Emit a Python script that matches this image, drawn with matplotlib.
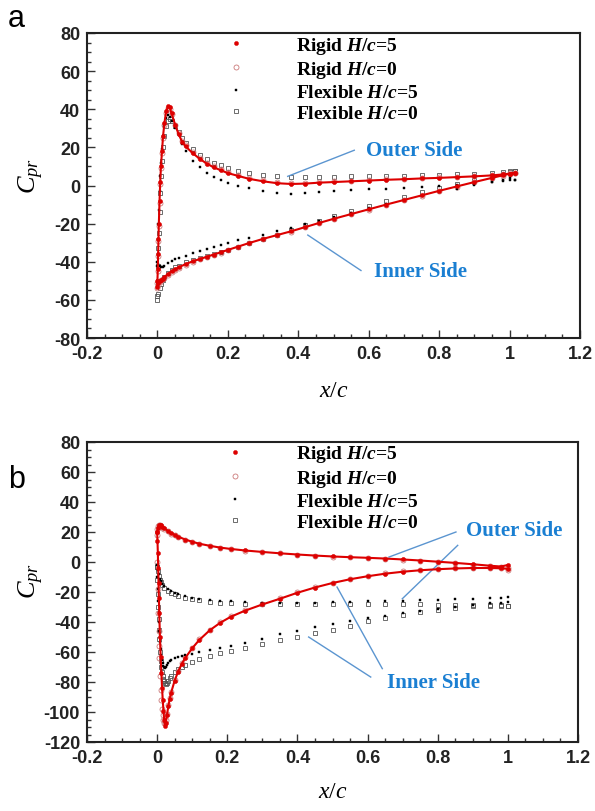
import numpy as np
import matplotlib
matplotlib.use("Agg")
import matplotlib.pyplot as plt
from matplotlib.ticker import MultipleLocator, FormatStrFormatter

plt.rcParams["axes.unicode_minus"] = False
plt.rcParams["mathtext.fontset"] = "custom"
plt.rcParams["mathtext.rm"] = "Liberation Serif"
plt.rcParams["mathtext.it"] = "Liberation Serif:italic"
plt.rcParams["mathtext.bf"] = "Liberation Serif:bold"
plt.rcParams["mathtext.bfit"] = "Liberation Serif:italic:bold"

# ---------------- panel a data ----------------
x_out_a = [0.0, 0.001, 0.002, 0.003, 0.004, 0.006, 0.008, 0.01, 0.013, 0.016, 0.02, 0.025, 0.03,
           0.035, 0.04, 0.05, 0.06, 0.07, 0.08, 0.1, 0.12, 0.14, 0.16, 0.18, 0.2, 0.23, 0.26, 0.3,
           0.34, 0.38, 0.42, 0.46, 0.5, 0.55, 0.6, 0.65, 0.7, 0.75, 0.8, 0.85, 0.9, 0.95, 0.98, 1.0, 1.015]
rigid5_out_a = [-50, -44, -36, -28, -20, -8, 2, 10, 18, 26, 33, 39, 41.5,
                41, 38, 32, 27, 23, 20.5, 17, 14, 11.5, 9.5, 8, 6.5, 5, 3.5, 2.2,
                1.2, 0.8, 1.0, 1.5, 1.8, 2.2, 2.6, 3.0, 3.3, 3.7, 4.0, 4.4, 4.8, 5.3, 5.8, 6.2, 6.5]
rigid0_out_a = [-51, -45, -37, -29, -21, -9, 1, 9, 17, 25, 32, 38, 40.5,
                40, 37.5, 32, 27.5, 23.5, 21, 17.5, 14.5, 12, 10, 8.5, 7, 5.5, 4, 2.7,
                1.7, 1.3, 1.4, 1.8, 2.1, 2.5, 2.9, 3.2, 3.5, 3.9, 4.2, 4.6, 5.0, 5.5, 6.0, 6.3, 6.5]
flex5_out_a = [-42, -36, -28, -20, -13, -3, 5, 12, 19, 26, 31, 35.5, 37,
               36, 34, 30, 26.5, 22, 18, 13, 9.5, 6.5, 4.5, 2.8, 1.5, 0, -1.5, -3,
               -4, -4.5, -4, -3.2, -2.8, -2.4, -2, -1.6, -1.2, -0.8, -0.3, 0.3, 1.0, 2.0, 3.0, 4.0, 3.0]
flex0_out_a = [-58, -50, -42, -33, -25, -14, -4, 5, 13, 20, 26, 31, 34,
               35, 34, 31, 28, 25, 22.5, 19, 16, 14, 12, 10.5, 9.2, 7.8, 6.5, 5.5,
               4.8, 4.5, 4.5, 4.6, 4.7, 4.8, 5.0, 5.1, 5.2, 5.4, 5.6, 5.8, 6.0, 6.5, 7.0, 7.5, 7.5]

x_in_a = [0.0, 0.003, 0.006, 0.01, 0.015, 0.02, 0.03, 0.04, 0.05, 0.06, 0.08, 0.1, 0.12, 0.14,
          0.16, 0.18, 0.2, 0.23, 0.26, 0.3, 0.34, 0.38, 0.42, 0.46, 0.5, 0.55, 0.6, 0.65, 0.7,
          0.75, 0.8, 0.85, 0.9, 0.95, 0.98, 1.0, 1.015]
rigid5_in_a = [-53, -51, -50, -49.5, -48.8, -48, -46.5, -45, -44, -43, -41.2, -39.8, -38.6, -37.4,
               -36.2, -35, -33.8, -32, -30.2, -28, -26, -24, -21.8, -19.6, -17.5, -15, -12.5, -10, -7.6,
               -5.2, -2.8, -0.5, 1.8, 4.0, 5.3, 6.2, 6.5]
rigid0_in_a = [-54, -52, -50.5, -49.8, -49, -48.3, -46.8, -45.4, -44.3, -43.3, -41.5, -40, -38.8, -37.6,
               -36.4, -35.2, -34, -32.2, -30.4, -28.2, -26.2, -24.2, -22, -19.8, -17.7, -15.2, -12.7, -10.2, -7.8,
               -5.4, -3.0, -0.7, 1.6, 3.8, 5.1, 6.0, 6.4]
flex5_in_a = [-40, -41, -42, -42.5, -42.5, -42, -40.8, -39.8, -38.8, -38, -36.8, -35.6, -34.6, -33.5,
              -32.4, -31.3, -30.3, -28.8, -27.4, -25.8, -24, -22.2, -20.3, -18.4, -16.5, -14.2, -12, -9.8, -7.7,
              -5.6, -3.5, -1.6, 0.2, 1.8, 2.6, 3.0, 3.0]
flex0_in_a = [-60, -57, -54, -51.5, -49.5, -48, -46, -44.5, -43, -42, -40.3, -39, -37.8, -36.8,
              -35.8, -34.8, -33.6, -32, -30.3, -28.2, -25.8, -23.3, -20.8, -18.4, -16, -13.3, -10.8, -8.3, -5.9,
              -3.6, -1.4, 0.8, 2.8, 4.8, 6.2, 7.2, 7.5]

# ---------------- panel b data ----------------
x_out_b = [0.0, 0.002, 0.004, 0.007, 0.01, 0.015, 0.02, 0.03, 0.04, 0.05, 0.06, 0.08, 0.1, 0.12,
           0.15, 0.18, 0.21, 0.25, 0.3, 0.35, 0.4, 0.45, 0.5, 0.55, 0.6, 0.65, 0.7, 0.75, 0.8,
           0.85, 0.9, 0.95, 0.98, 1.0]
rigid5_out_b = [20, 23, 24.5, 24.8, 24.5, 23.5, 22.5, 20.8, 19.3, 18, 16.9, 15, 13.5, 12.2,
                10.8, 9.6, 8.7, 7.7, 6.7, 5.8, 5.0, 4.3, 3.7, 3.2, 2.8, 2.3, 1.7, 1.0, 0.2,
                -0.6, -1.5, -2.5, -3.0, -2.0]
rigid0_out_b = [22, 24, 24.8, 24.5, 24, 23, 22, 20.4, 19, 17.8, 16.7, 14.8, 13.3, 12,
                10.6, 9.5, 8.6, 7.6, 6.6, 5.7, 4.9, 4.2, 3.6, 3.1, 2.6, 2.1, 1.5, 0.8, 0.0,
                -0.9, -1.8, -2.8, -3.5, -5.0]
flex5_out_b = [-2, -5, -8, -11, -12.5, -14.5, -16, -18, -19.5, -20.6, -21.5, -22.8, -23.8, -24.5,
               -25.3, -25.9, -26.3, -26.7, -27, -27.1, -27.1, -27, -26.8, -26.5, -26.3, -26, -25.7, -25.4, -25.1,
               -24.8, -24.5, -24.1, -23.7, -23.3]
flex0_out_b = [-3, -6, -9, -12, -13.5, -15.5, -17, -19, -20.5, -21.6, -22.5, -23.8, -24.8, -25.6,
               -26.4, -27, -27.4, -27.7, -28, -28.2, -28.3, -28.3, -28.3, -28.3, -28.3, -28.3, -28.3, -28.3, -28.4,
               -28.5, -28.6, -28.7, -28.8, -29]

x_in_b = [0.0, 0.001, 0.002, 0.003, 0.004, 0.005, 0.006, 0.008, 0.01, 0.012, 0.014, 0.016, 0.018,
          0.02, 0.022, 0.025, 0.028, 0.032, 0.036, 0.04, 0.05, 0.06, 0.07, 0.08, 0.1, 0.12, 0.15,
          0.18, 0.21, 0.25, 0.3, 0.35, 0.4, 0.45, 0.5, 0.55, 0.6, 0.65, 0.7, 0.75, 0.8, 0.85,
          0.9, 0.95, 0.98, 1.0]
rigid5_in_b = [20, 14, 6, -4, -14, -24, -34, -50, -63, -74, -84, -92, -99,
               -105, -109, -107, -102, -96, -91, -87, -79, -73, -68, -64, -57.5, -52, -45.5,
               -40.5, -36.5, -32.5, -28.3, -24.5, -20.5, -17, -14, -11.5, -9.5, -7.8, -6.5, -5.5, -4.8, -4.3,
               -4.0, -4.0, -4.2, -4.5]
rigid0_in_b = [18, 0, -18, -34, -46, -56, -64, -76, -85, -92, -98, -102, -105,
               -107, -107, -105, -101, -95.5, -90.5, -86.5, -78.5, -72.5, -67.5, -63.5, -57, -51.5, -45,
               -40, -36, -32, -28, -24.2, -20.3, -16.8, -13.8, -11.3, -9.3, -7.6, -6.3, -5.3, -4.6, -4.1,
               -3.8, -3.8, -4.0, -4.3]
flex5_in_b = [-2, -10, -18, -26, -33, -40, -46, -53, -58, -62, -65, -67.5, -69,
              -70, -70.5, -70, -68.5, -67, -66, -65.2, -64, -63.2, -62.6, -62, -61, -60, -58.6,
              -57.2, -55.8, -53.8, -51.2, -48, -45.8, -43.6, -41.5, -39.5, -37.6, -35.8, -34.2, -32.6, -31.2, -29.9,
              -28.7, -27.6, -27, -26.5]
flex0_in_b = [-3, -12, -21, -30, -38, -45, -51, -60, -66, -70, -73.5, -76, -78,
              -79.5, -80.5, -81, -80.5, -79, -77.5, -76, -73.5, -71.5, -70, -68.7, -66.5, -64.8, -62.5,
              -60.6, -59, -57, -54.6, -52.3, -50, -47.6, -45.2, -42.8, -39.5, -37, -35, -33.3, -31.8, -30.5,
              -29.6, -29.1, -29, -29]

labels = [r"Rigid $\mathbfit{H}\mathbf{/}\mathbfit{c}$=5",
          r"Rigid $\mathbfit{H}\mathbf{/}\mathbfit{c}$=0",
          r"Flexible $\mathbfit{H}\mathbf{/}\mathbfit{c}$=5",
          r"Flexible $\mathbfit{H}\mathbf{/}\mathbfit{c}$=0"]

RED = "#dd0000"
BLUE_TXT = "#1a7fd2"
BLUE_LN = "#5b95d0"

styles = [
    dict(marker="o", ms=3.0, mfc=RED, mec=RED, mew=0.3, color=RED, ls="-", lw=1.5, zorder=5),
    dict(marker="o", ms=3.6, mfc="none", mec="#cc7a7a", mew=0.6, ls="none", zorder=3),
    dict(marker="s", ms=1.8, mfc="black", mec="black", mew=0.3, ls="none", zorder=4),
    dict(marker="s", ms=3.1, mfc="none", mec="#555555", mew=0.6, ls="none", zorder=2),
]


def loop(x_in, cp_in, x_out, cp_out):
    # inner side from trailing edge to leading edge, then outer side back
    return (np.concatenate([x_in[::-1], x_out]),
            np.concatenate([cp_in[::-1], cp_out]))


fig = plt.figure(figsize=(5.95, 8.12), dpi=100)
ax_a = fig.add_axes([87 / 595, 1 - 339 / 812, 493 / 595, 305 / 812])
ax_b = fig.add_axes([87 / 595, 1 - 743 / 812, 491 / 595, 300 / 812])

series_a = [(rigid5_in_a, rigid5_out_a), (rigid0_in_a, rigid0_out_a),
            (flex5_in_a, flex5_out_a), (flex0_in_a, flex0_out_a)]
series_b = [(rigid5_in_b, rigid5_out_b), (rigid0_in_b, rigid0_out_b),
            (flex5_in_b, flex5_out_b), (flex0_in_b, flex0_out_b)]

for ax, series, x_in, x_out in [(ax_a, series_a, x_in_a, x_out_a),
                                (ax_b, series_b, x_in_b, x_out_b)]:
    handles = []
    for (cp_in, cp_out), st, lab in zip(series, styles, labels):
        xx, cc = loop(np.array(x_in), np.array(cp_in), np.array(x_out), np.array(cp_out))
        ax.plot(xx, cc, **st)
        h, = ax.plot([], [], marker=st["marker"], ms=st["ms"], mfc=st["mfc"], mec=st["mec"],
                     mew=st["mew"], ls="none", label=lab)
        handles.append(h)
    ax.legend(handles=handles, loc="upper left", bbox_to_anchor=(0.2826, 0.995), frameon=False,
              borderpad=0, borderaxespad=0, handlelength=1.0, handletextpad=2.6,
              labelspacing=0.17, prop=dict(family="Liberation Serif", weight="bold", size=14))

    ax.set_xlim(-0.2, 1.2)
    ax.xaxis.set_major_locator(MultipleLocator(0.2))
    ax.xaxis.set_minor_locator(MultipleLocator(0.05))
    ax.yaxis.set_major_locator(MultipleLocator(20))
    ax.yaxis.set_minor_locator(MultipleLocator(5))
    ax.xaxis.set_major_formatter(FormatStrFormatter("%g"))
    ax.yaxis.set_major_formatter(FormatStrFormatter("%g"))
    ax.tick_params(which="both", direction="in", top=False, right=False, width=1.0, color="#333333")
    ax.tick_params(which="major", length=6, pad=5)
    ax.tick_params(which="minor", length=3)
    for lab in ax.get_xticklabels() + ax.get_yticklabels():
        lab.set_fontfamily("Liberation Sans")
        lab.set_fontweight("bold")
        lab.set_fontsize(13)
        lab.set_color("#222222")
    for sp in ax.spines.values():
        sp.set_linewidth(1.5)
        sp.set_color("#222222")
    ax.set_xlabel(r"$x/c$", fontsize=17)
    ax.set_ylabel(r"$C_{pr}$", fontsize=19)

ax_a.set_ylim(-80, 80)
ax_b.set_ylim(-120, 80)
ax_a.xaxis.set_label_coords(0.5, -0.128)
ax_a.yaxis.set_label_coords(-0.083, 0.534)
ax_b.xaxis.set_label_coords(0.5, -0.12)
ax_b.yaxis.set_label_coords(-0.084, 0.54)

txt = dict(family="Liberation Serif", weight="bold", fontsize=15, color=BLUE_TXT,
           ha="center", va="center")
# panel a annotations
ax_a.text(0.728, 18.4, "Outer Side", **txt)
ax_a.plot([0.559, 0.37], [18.5, 4.8], color=BLUE_LN, lw=1.0)
ax_a.text(0.748, -45, "Inner Side", **txt)
ax_a.plot([0.578, 0.427], [-44.6, -26], color=BLUE_LN, lw=1.0)
# panel b annotations
ax_b.text(1.018, 21.2, "Outer Side", **txt)
ax_b.plot([0.852, 0.661], [20, 3.3], color=BLUE_LN, lw=1.0)
ax_b.plot([0.857, 0.699], [11.1, -24.5], color=BLUE_LN, lw=1.0)
ax_b.text(0.788, -80, "Inner Side", **txt)
ax_b.plot([0.609, 0.432], [-76.7, -50], color=BLUE_LN, lw=1.0)
ax_b.plot([0.642, 0.513], [-71.1, -16.7], color=BLUE_LN, lw=1.0)

fig.text(8 / 595, 1 - 27 / 812, "a", family="Liberation Sans", fontsize=22, va="baseline")
fig.text(8 / 595, 1 - 488 / 812, "b", family="Liberation Sans", fontsize=22, va="baseline")

fig.savefig("out.png", dpi=100)
